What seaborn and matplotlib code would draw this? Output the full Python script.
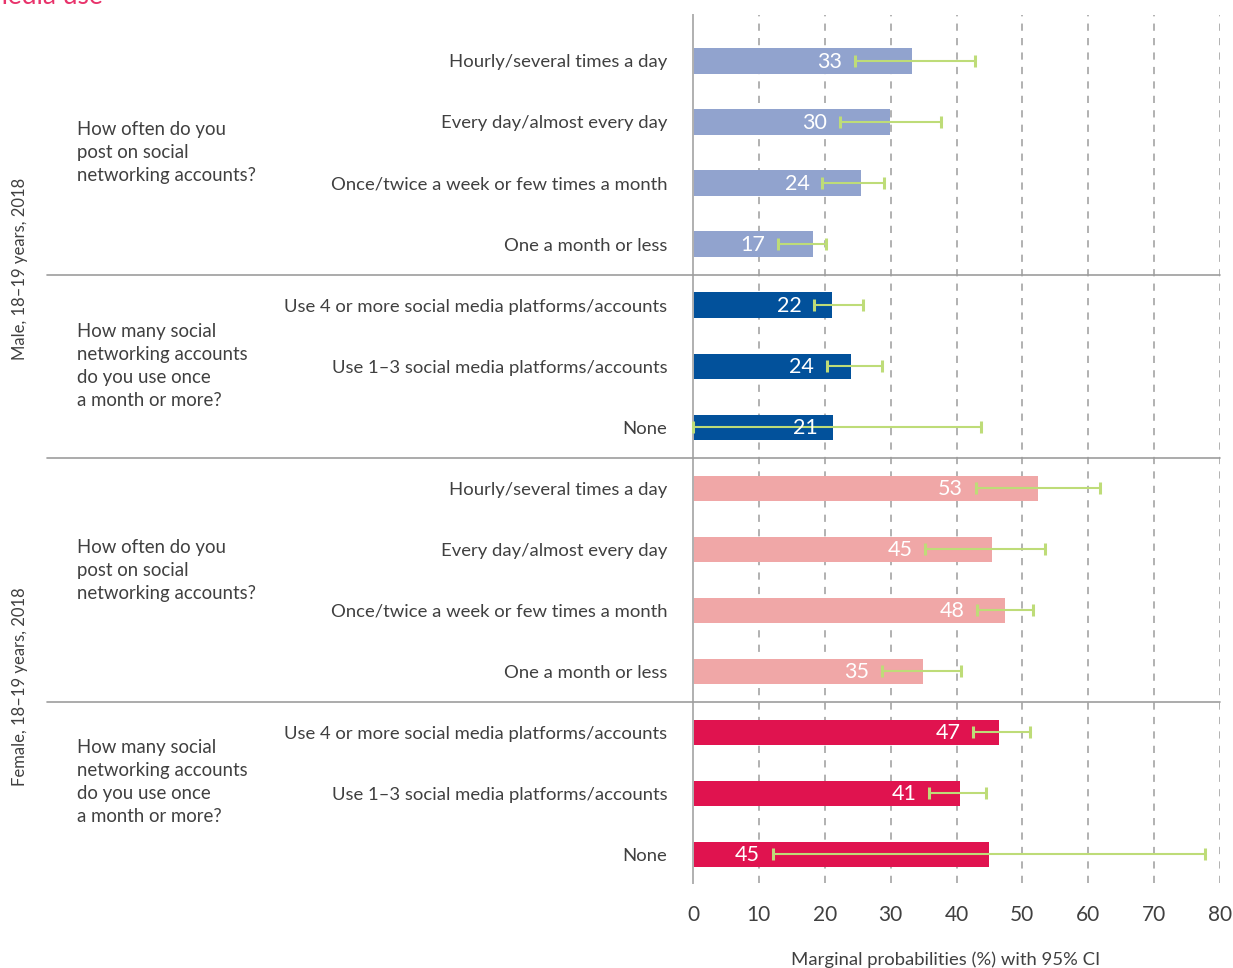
import numpy as np
import pandas as pd
import matplotlib
matplotlib.use("Agg")
import matplotlib.pyplot as plt
import matplotlib.transforms as mtransforms
import seaborn as sns

# ---------------- data ----------------
categories = [
    "Hourly/several times a day",
    "Every day/almost every day",
    "Once/twice a week or few times a month",
    "One a month or less",
    "Use 4 or more social media platforms/accounts",
    "Use 1–3 social media platforms/accounts",
    "None",
    "Hourly/several times a day",
    "Every day/almost every day",
    "Once/twice a week or few times a month",
    "One a month or less",
    "Use 4 or more social media platforms/accounts",
    "Use 1–3 social media platforms/accounts",
    "None",
]
groups = ["Male frequency"] * 4 + ["Male accounts"] * 3 + \
         ["Female frequency"] * 4 + ["Female accounts"] * 3
values = [33.2, 29.9, 25.5, 18.2, 21.1, 24.0, 21.2,
          52.4, 45.4, 47.3, 34.9, 46.4, 40.5, 44.9]
value_labels = ["33", "30", "24", "17", "22", "24", "21",
                "53", "45", "48", "35", "47", "41", "45"]
ci_low = [24.6, 22.3, 19.6, 12.9, 18.4, 20.3, 0.0,
          42.9, 35.2, 43.1, 28.7, 42.5, 35.8, 12.1]
ci_high = [42.8, 37.6, 29.0, 20.2, 25.8, 28.7, 43.7,
           61.8, 53.4, 51.6, 40.7, 51.1, 44.5, 77.7]
question_freq = "How often do you\npost on social\nnetworking accounts?"
question_acc = "How many social\nnetworking accounts\ndo you use once\na month or more?"
gender_labels = ["Male, 18–19 years, 2018", "Female, 18–19 years, 2018"]
x_ticks = [0, 10, 20, 30, 40, 50, 60, 70, 80]
x_label = "Marginal probabilities (%) with 95% CI"
title_fragment = "media use"

palette = {
    "Male frequency": "#91A3CE",
    "Male accounts": "#02519B",
    "Female frequency": "#F0A7A7",
    "Female accounts": "#E0134F",
}

# ---------------- figure ----------------
sns.set_theme(style="white")
plt.rcParams["font.family"] = ["Lato", "DejaVu Sans"]
TEXT = "#404040"

fig = plt.figure(figsize=(12.33, 9.68), dpi=100)
W, H = 1233, 968
ax = fig.add_axes([693 / W, 1 - 883 / H, (1220 - 693) / W, (883 - 15) / H])

df = pd.DataFrame({
    "key": [f"r{i:02d}" for i in range(len(categories))],
    "value": values,
    "group": groups,
})
sns.barplot(data=df, x="value", y="key", hue="group", palette=palette,
            dodge=False, orient="h", width=0.41, legend=False, ax=ax,
            saturation=1, linewidth=0)

ax.set_xlim(0, 80)
ax.set_ylim(13.475, -0.754)

# grid lines
for t in x_ticks[1:]:
    ax.axvline(t, color="#ababab", lw=1.3, ls=(0, (4, 4)), zorder=0)

# spines
for s in ["top", "right", "bottom"]:
    ax.spines[s].set_visible(False)
ax.spines["left"].set_color("#b0b0b0")
ax.spines["left"].set_linewidth(1.4)

# ticks
ax.set_yticks(range(len(categories)))
ax.set_yticklabels(categories, fontsize=13.3, color=TEXT)
ax.set_xticks(x_ticks)
ax.set_xticklabels([str(t) for t in x_ticks], fontsize=15, color=TEXT)
ax.tick_params(axis="y", length=0, pad=18.5)
ax.tick_params(axis="x", length=0, pad=16)
ax.set_xlabel(x_label, fontsize=13.3, color=TEXT)
ax.xaxis.set_label_coords((946 - 693) / (1220 - 693), -0.079)
ax.set_ylabel("")

# error bars
ypos = np.arange(len(values))
for i in range(len(values)):
    half = (ci_high[i] - ci_low[i]) / 2
    err = ax.errorbar(
        x=[ci_low[i] + half], y=[ypos[i]], xerr=[[half], [half]],
        fmt="none", ecolor="#BEDC78", elinewidth=1.5, capsize=4.5,
        capthick=2.2, zorder=4, clip_on=False)
    for cap in err[1]:
        cap.set_color("#A3CC35")

# value labels
for i in range(len(values)):
    if ci_low[i] > 5:
        xt = ci_low[i] - 1.9
    else:
        xt = values[i] - 2.2
    ax.text(xt, ypos[i] + 0.02, value_labels[i], ha="right", va="center",
            color="white", fontsize=15.5, zorder=5)

# separator lines
blend = mtransforms.blended_transform_factory(ax.transAxes, ax.transData)
left_frac = (47 - 693) / (1220 - 693)
for yy in [3.5, 6.5, 10.5]:
    ax.plot([left_frac, 1.0], [yy, yy], color="#9d9d9d", lw=1.2,
            transform=blend, clip_on=False, zorder=3)

# question labels
x_q = (77 - 693) / (1220 - 693)
qkw = dict(transform=blend, ha="left", va="center", fontsize=13.4,
           color=TEXT, linespacing=1.42)
ax.text(x_q, 1.5, question_freq, **qkw)
ax.text(x_q, 5.0, question_acc, **qkw)
ax.text(x_q, 8.35, question_freq, **qkw)
ax.text(x_q, 11.82, question_acc, **qkw)

# gender labels
x_g = (20 - 693) / (1220 - 693)
gkw = dict(transform=blend, ha="center", va="center", rotation=90,
           fontsize=12, color=TEXT)
ax.text(x_g, 3.4, gender_labels[0], **gkw)
ax.text(x_g, 10.25, gender_labels[1], **gkw)

# clipped title fragment (reference shows it cut by the top edge)
fig.text(-14 / W, 1 - 4.5 / H, title_fragment, ha="left", va="baseline",
         fontsize=19, color="#E8336B")

fig.savefig("out.png", dpi=100)
